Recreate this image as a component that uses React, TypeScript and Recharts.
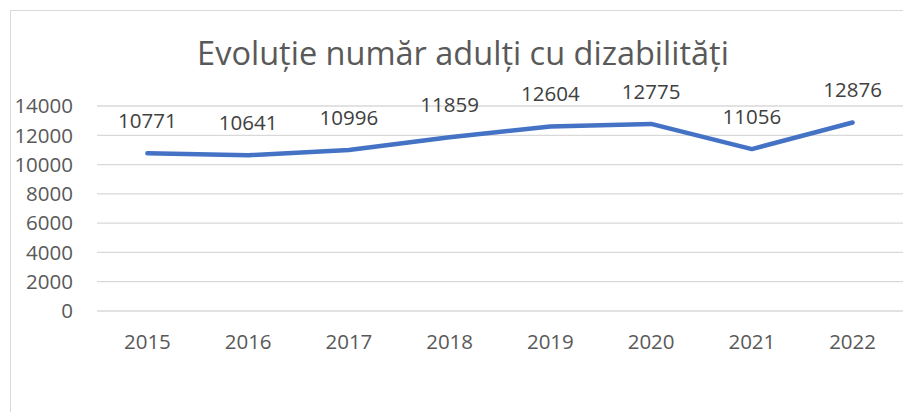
import React from 'react';
import { LineChart, Line, XAxis, YAxis, CartesianGrid, LabelList } from 'recharts';

const years = ['2015', '2016', '2017', '2018', '2019', '2020', '2021', '2022'];
const adults = [10771, 10641, 10996, 11859, 12604, 12775, 11056, 12876];
const yTicks = [0, 2000, 4000, 6000, 8000, 10000, 12000, 14000];
const title = 'Evoluție număr adulți cu dizabilități';

const data = years.map((y, i) => ({ year: y, value: adults[i] }));

const FONT = '"Open Sans", sans-serif';

export default function App() {
  return (
    <div style={{ position: 'absolute', left: 0, top: 0, width: 903, height: 412, overflow: 'hidden', background: '#fff' }}>
      <div style={{ position: 'absolute', left: 10, top: 10, width: 1000, height: 1000, border: '1px solid #d9d9d9', boxSizing: 'border-box' }} />
      <div style={{ position: 'absolute', left: 0, top: 0 }}>
        <LineChart width={903} height={412} data={data} margin={{ top: 106, right: 0, bottom: 71, left: 0 }}>
          <CartesianGrid vertical={false} stroke="#d9d9d9" strokeWidth={1.3} />
          <XAxis
            dataKey="year"
            axisLine={false}
            tickLine={false}
            tickSize={0}
            tickMargin={23}
            height={30}
            interval={0}
            padding={{ left: 50.4, right: 50.4 }}
            tick={{ fill: '#595959', fontSize: 20.5, fontFamily: FONT }}
          />
          <YAxis
            domain={[0, 14000]}
            ticks={yTicks}
            axisLine={false}
            tickLine={false}
            tickSize={0}
            tickMargin={24}
            width={97}
            interval={0}
            tick={{ fill: '#595959', fontSize: 20.5, fontFamily: FONT }}
          />
          <Line
            type="linear"
            dataKey="value"
            stroke="#4472C4"
            strokeWidth={4.5}
            strokeLinecap="round"
            strokeLinejoin="round"
            dot={false}
            isAnimationActive={false}
          >
            <LabelList dataKey="value" position="top" offset={25} fill="#404040" fontSize={20.5} fontFamily={FONT} />
          </Line>
        </LineChart>
      </div>
      <svg width={903} height={412} style={{ position: 'absolute', left: 0, top: 0, pointerEvents: 'none' }}>
        <text x={463} y={65} textAnchor="middle" fill="#595959" fontSize={32.5} fontFamily={FONT}>
          {title}
        </text>
      </svg>
    </div>
  );
}
